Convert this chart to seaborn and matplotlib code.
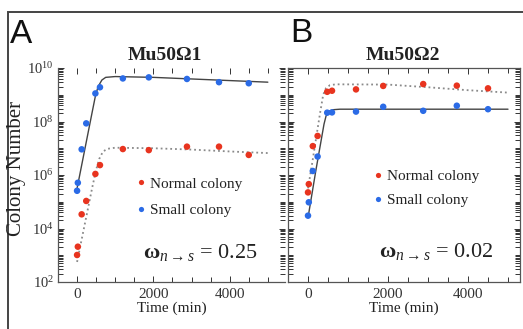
import numpy as np
import pandas as pd
import matplotlib
matplotlib.use("Agg")
import matplotlib.pyplot as plt
import matplotlib.ticker as mticker
from matplotlib.patches import Rectangle
import seaborn as sns

# sampling times (min)
times = [0, 20, 120, 240, 480, 600, 1200, 1880, 2880, 3720, 4500]

# colony numbers, as log10
normal_a = [3.01, 3.32, 4.53, 5.03, 6.04, 6.37, 6.97, 6.93, 7.06, 7.06, 6.75]
small_a = [5.41, 5.71, 6.96, 7.93, 9.05, 9.28, 9.61, 9.65, 9.59, 9.47, 9.43]
normal_b = [5.35, 5.66, 7.08, 7.46, 9.11, 9.15, 9.20, 9.33, 9.40, 9.34, 9.24]
small_b = [4.48, 4.98, 6.15, 6.69, 8.33, 8.34, 8.37, 8.55, 8.40, 8.59, 8.46]

# fitted curves (log10)
fit_t_small_a = [0, 100, 200, 300, 400, 480, 550, 650, 750, 1000, 2000, 3000, 4000, 5000]
fit_small_a = [5.5, 6.22, 6.94, 7.66, 8.38, 8.95, 9.3, 9.55, 9.65, 9.68, 9.65, 9.59, 9.53, 9.47]
fit_t_normal_a = [0, 100, 200, 300, 400, 500, 580, 680, 800, 1000, 2000, 3000, 4000, 5000]
fit_normal_a = [2.75, 3.45, 4.15, 4.85, 5.55, 6.2, 6.6, 6.88, 6.98, 7.02, 7.0, 6.95, 6.88, 6.82]
fit_t_small_b = [0, 100, 200, 300, 400, 450, 520, 620, 800, 2000, 5000]
fit_small_b = [4.4, 5.3, 6.2, 7.05, 7.9, 8.2, 8.38, 8.44, 8.46, 8.46, 8.46]
fit_t_normal_b = [0, 100, 200, 300, 380, 450, 550, 700, 2000, 3000, 4000, 5000]
fit_normal_b = [5.5, 6.4, 7.35, 8.3, 9.0, 9.25, 9.36, 9.39, 9.38, 9.28, 9.17, 9.08]

titles = ["Mu50\u03a91", "Mu50\u03a92"]
omegas = ["0.25", "0.02"]
colonies = ["Normal colony", "Small colony"]
paleta = {"Normal colony": "#e8341f", "Small colony": "#2b6be6"}

def tabela(normal, small):
    df = pd.DataFrame({
        "Time": times * 2,
        "log10": normal + small,
        "Colony": ["Normal colony"] * len(times) + ["Small colony"] * len(times),
    })
    df["Count"] = 10.0 ** df["log10"]
    return df

sns.set_theme(style="ticks")
plt.rcParams["font.family"] = ["Liberation Serif", "DejaVu Serif"]
plt.rcParams["mathtext.fontset"] = "custom"
plt.rcParams["mathtext.rm"] = "Liberation Serif"
plt.rcParams["mathtext.it"] = "Liberation Serif:italic"
plt.rcParams["mathtext.bf"] = "Liberation Serif:bold"

fig = plt.figure(figsize=(5.23, 3.29), dpi=100)
ax_a = fig.add_axes([58 / 523, 1 - 282 / 329, 227 / 523, 214 / 329])
ax_b = fig.add_axes([288 / 523, 1 - 282 / 329, 232 / 523, 214 / 329])

paineis = [
    (ax_a, tabela(normal_a, small_a), (fit_t_small_a, fit_small_a), (fit_t_normal_a, fit_normal_a), (-500, 5450)),
    (ax_b, tabela(normal_b, small_b), (fit_t_small_b, fit_small_b), (fit_t_normal_b, fit_normal_b), (-500, 5300)),
]

for i, (ax, df, fs, fn, xlim) in enumerate(paineis):
    ax.set_yscale("log")
    ax.plot(fs[0], 10.0 ** np.array(fs[1]), color="#444444", lw=1.0, zorder=2)
    ax.plot(fn[0], 10.0 ** np.array(fn[1]), color="#8a8a8a", lw=1.3, ls=":", zorder=2)
    sns.scatterplot(data=df, x="Time", y="Count", hue="Colony", hue_order=colonies,
                    palette=paleta, s=22, edgecolor="none", ax=ax, zorder=3)
    ax.set_xlim(*xlim)
    ax.set_ylim(1e2, 1e10)

    ax.xaxis.set_major_locator(mticker.FixedLocator([0, 2000, 4000]))
    ax.xaxis.set_minor_locator(mticker.MultipleLocator(500))
    ax.yaxis.set_major_locator(mticker.LogLocator(base=100, numticks=10))
    ax.yaxis.set_minor_locator(mticker.LogLocator(base=10, subs=np.arange(1, 10), numticks=40))
    ax.yaxis.set_minor_formatter(mticker.NullFormatter())
    ax.tick_params(which="both", direction="in", top=True, right=True, color="#333333", width=0.7)
    ax.tick_params(which="major", length=4)
    ax.tick_params(which="minor", length=3.5)
    ax.tick_params(axis="x", labelsize=11, labelcolor="#333333", pad=4)
    ax.tick_params(axis="y", labelsize=10.5, labelcolor="#333333", pad=3)
    for s in ax.spines.values():
        s.set_color("#555555")
        s.set_linewidth(0.9)

    ax.set_xlabel("Time (min)", fontsize=11, color="#222222", labelpad=1)
    ax.set_ylabel("")

    ax.text(0.471 if i == 0 else 0.496, 1.037, titles[i], transform=ax.transAxes,
            ha="center", va="baseline", fontsize=14, fontweight="bold", color="#222222")
    ax.text(0.877 if i == 0 else 0.884, 0.112 if i == 0 else 0.117,
            r"$\mathbf{\omega}_{n\rightarrow s}$ = " + omegas[i], transform=ax.transAxes,
            ha="right", va="baseline", fontsize=16, color="#222222")

    leg = ax.legend(loc="upper left",
                    bbox_to_anchor=(0.304, 0.526) if i == 0 else (0.328, 0.563),
                    frameon=False, borderpad=0, handlelength=0.8, handletextpad=0.2,
                    labelspacing=0.85 if i == 0 else 0.7, fontsize=11, markerscale=0.8)
    for t in leg.get_texts():
        t.set_color("#222222")

ax_a.spines["top"].set_visible(False)
ax_a.spines["right"].set_visible(False)
ax_b.tick_params(axis="y", labelleft=False)

fig.text(17 / 523, 1 - 168 / 329, "Colony Number", rotation=90, ha="center", va="center",
         fontsize=15, color="#222222")
fig.text(10 / 523, 1 - 43 / 329, "A", fontsize=24, family="Liberation Sans", color="#111111")
fig.text(290 / 523, 1 - 42 / 329, "B", fontsize=24, family="Liberation Sans", color="#111111")

# moldura externa
fig.patches.append(Rectangle((8 / 523, -0.1), 1.2, 1.1 - 12 / 329, transform=fig.transFigure,
                             fill=False, edgecolor="#444444", lw=1.4))

fig.savefig("out.png", dpi=100)
